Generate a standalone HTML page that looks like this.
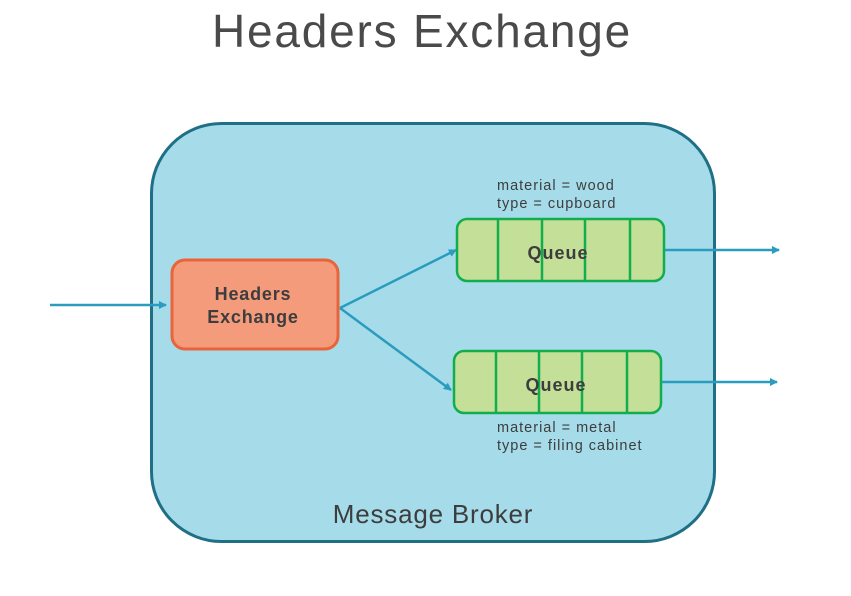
<!DOCTYPE html>
<html><head><style>
body{margin:0;background:#fff;width:851px;height:591px;overflow:hidden;font-family:"Liberation Sans",sans-serif}
</style></head><body>
<svg width="851" height="591" xmlns="http://www.w3.org/2000/svg">
<defs><marker id="a" markerWidth="8" markerHeight="8" refX="7" refY="4" orient="auto" markerUnits="userSpaceOnUse"><path d="M0,0 L8,4 L0,8 Z" fill="#2a9cbd"/></marker></defs>
<text x="422" y="47" text-anchor="middle" font-size="46" letter-spacing="1.8" fill="#4a4a4a" font-family="Liberation Sans">Headers Exchange</text>
<rect x="151.5" y="123.5" width="563" height="418" rx="70" fill="#a6dcea" stroke="#1f6f86" stroke-width="3"/>
<g stroke="#2a9cbd" stroke-width="2.5" fill="none">
<line x1="50" y1="305" x2="166" y2="305" marker-end="url(#a)"/>
<line x1="340" y1="308" x2="456" y2="250" marker-end="url(#a)"/>
<line x1="340" y1="308" x2="451" y2="390" marker-end="url(#a)"/>
<line x1="664" y1="250" x2="779" y2="250" marker-end="url(#a)"/>
<line x1="661" y1="382" x2="777" y2="382" marker-end="url(#a)"/>
</g>
<rect x="172" y="260" width="166" height="89" rx="13" fill="#f49b7c" stroke="#e9643a" stroke-width="3"/>
<text x="253" y="300" text-anchor="middle" font-size="18" letter-spacing="0.8" font-weight="bold" fill="#3d3d3d">Headers</text>
<text x="253" y="323" text-anchor="middle" font-size="18" letter-spacing="0.8" font-weight="bold" fill="#3d3d3d">Exchange</text>
<g stroke="#12ad4c" stroke-width="2.5" fill="#c4df98">
<rect x="457" y="219" width="207" height="62" rx="10"/>
<line x1="498" y1="219" x2="498" y2="281"/><line x1="542" y1="219" x2="542" y2="281"/><line x1="585" y1="219" x2="585" y2="281"/><line x1="630" y1="219" x2="630" y2="281"/>
<rect x="454" y="351" width="207" height="62" rx="10"/>
<line x1="496" y1="351" x2="496" y2="413"/><line x1="539" y1="351" x2="539" y2="413"/><line x1="582" y1="351" x2="582" y2="413"/><line x1="627" y1="351" x2="627" y2="413"/>
</g>
<text x="558" y="259" text-anchor="middle" font-size="18" letter-spacing="1" font-weight="bold" fill="#3d3d3d">Queue</text>
<text x="556" y="391" text-anchor="middle" font-size="18" letter-spacing="1" font-weight="bold" fill="#3d3d3d">Queue</text>
<g font-size="14.5" letter-spacing="1" fill="#3d3d3d">
<text x="497" y="190">material = wood</text>
<text x="497" y="208">type = cupboard</text>
<text x="497" y="432">material = metal</text>
<text x="497" y="450">type = filing cabinet</text>
</g>
<text x="433" y="523" text-anchor="middle" font-size="26" letter-spacing="0.8" fill="#3d3d3d">Message Broker</text>
</svg>
</body></html>
